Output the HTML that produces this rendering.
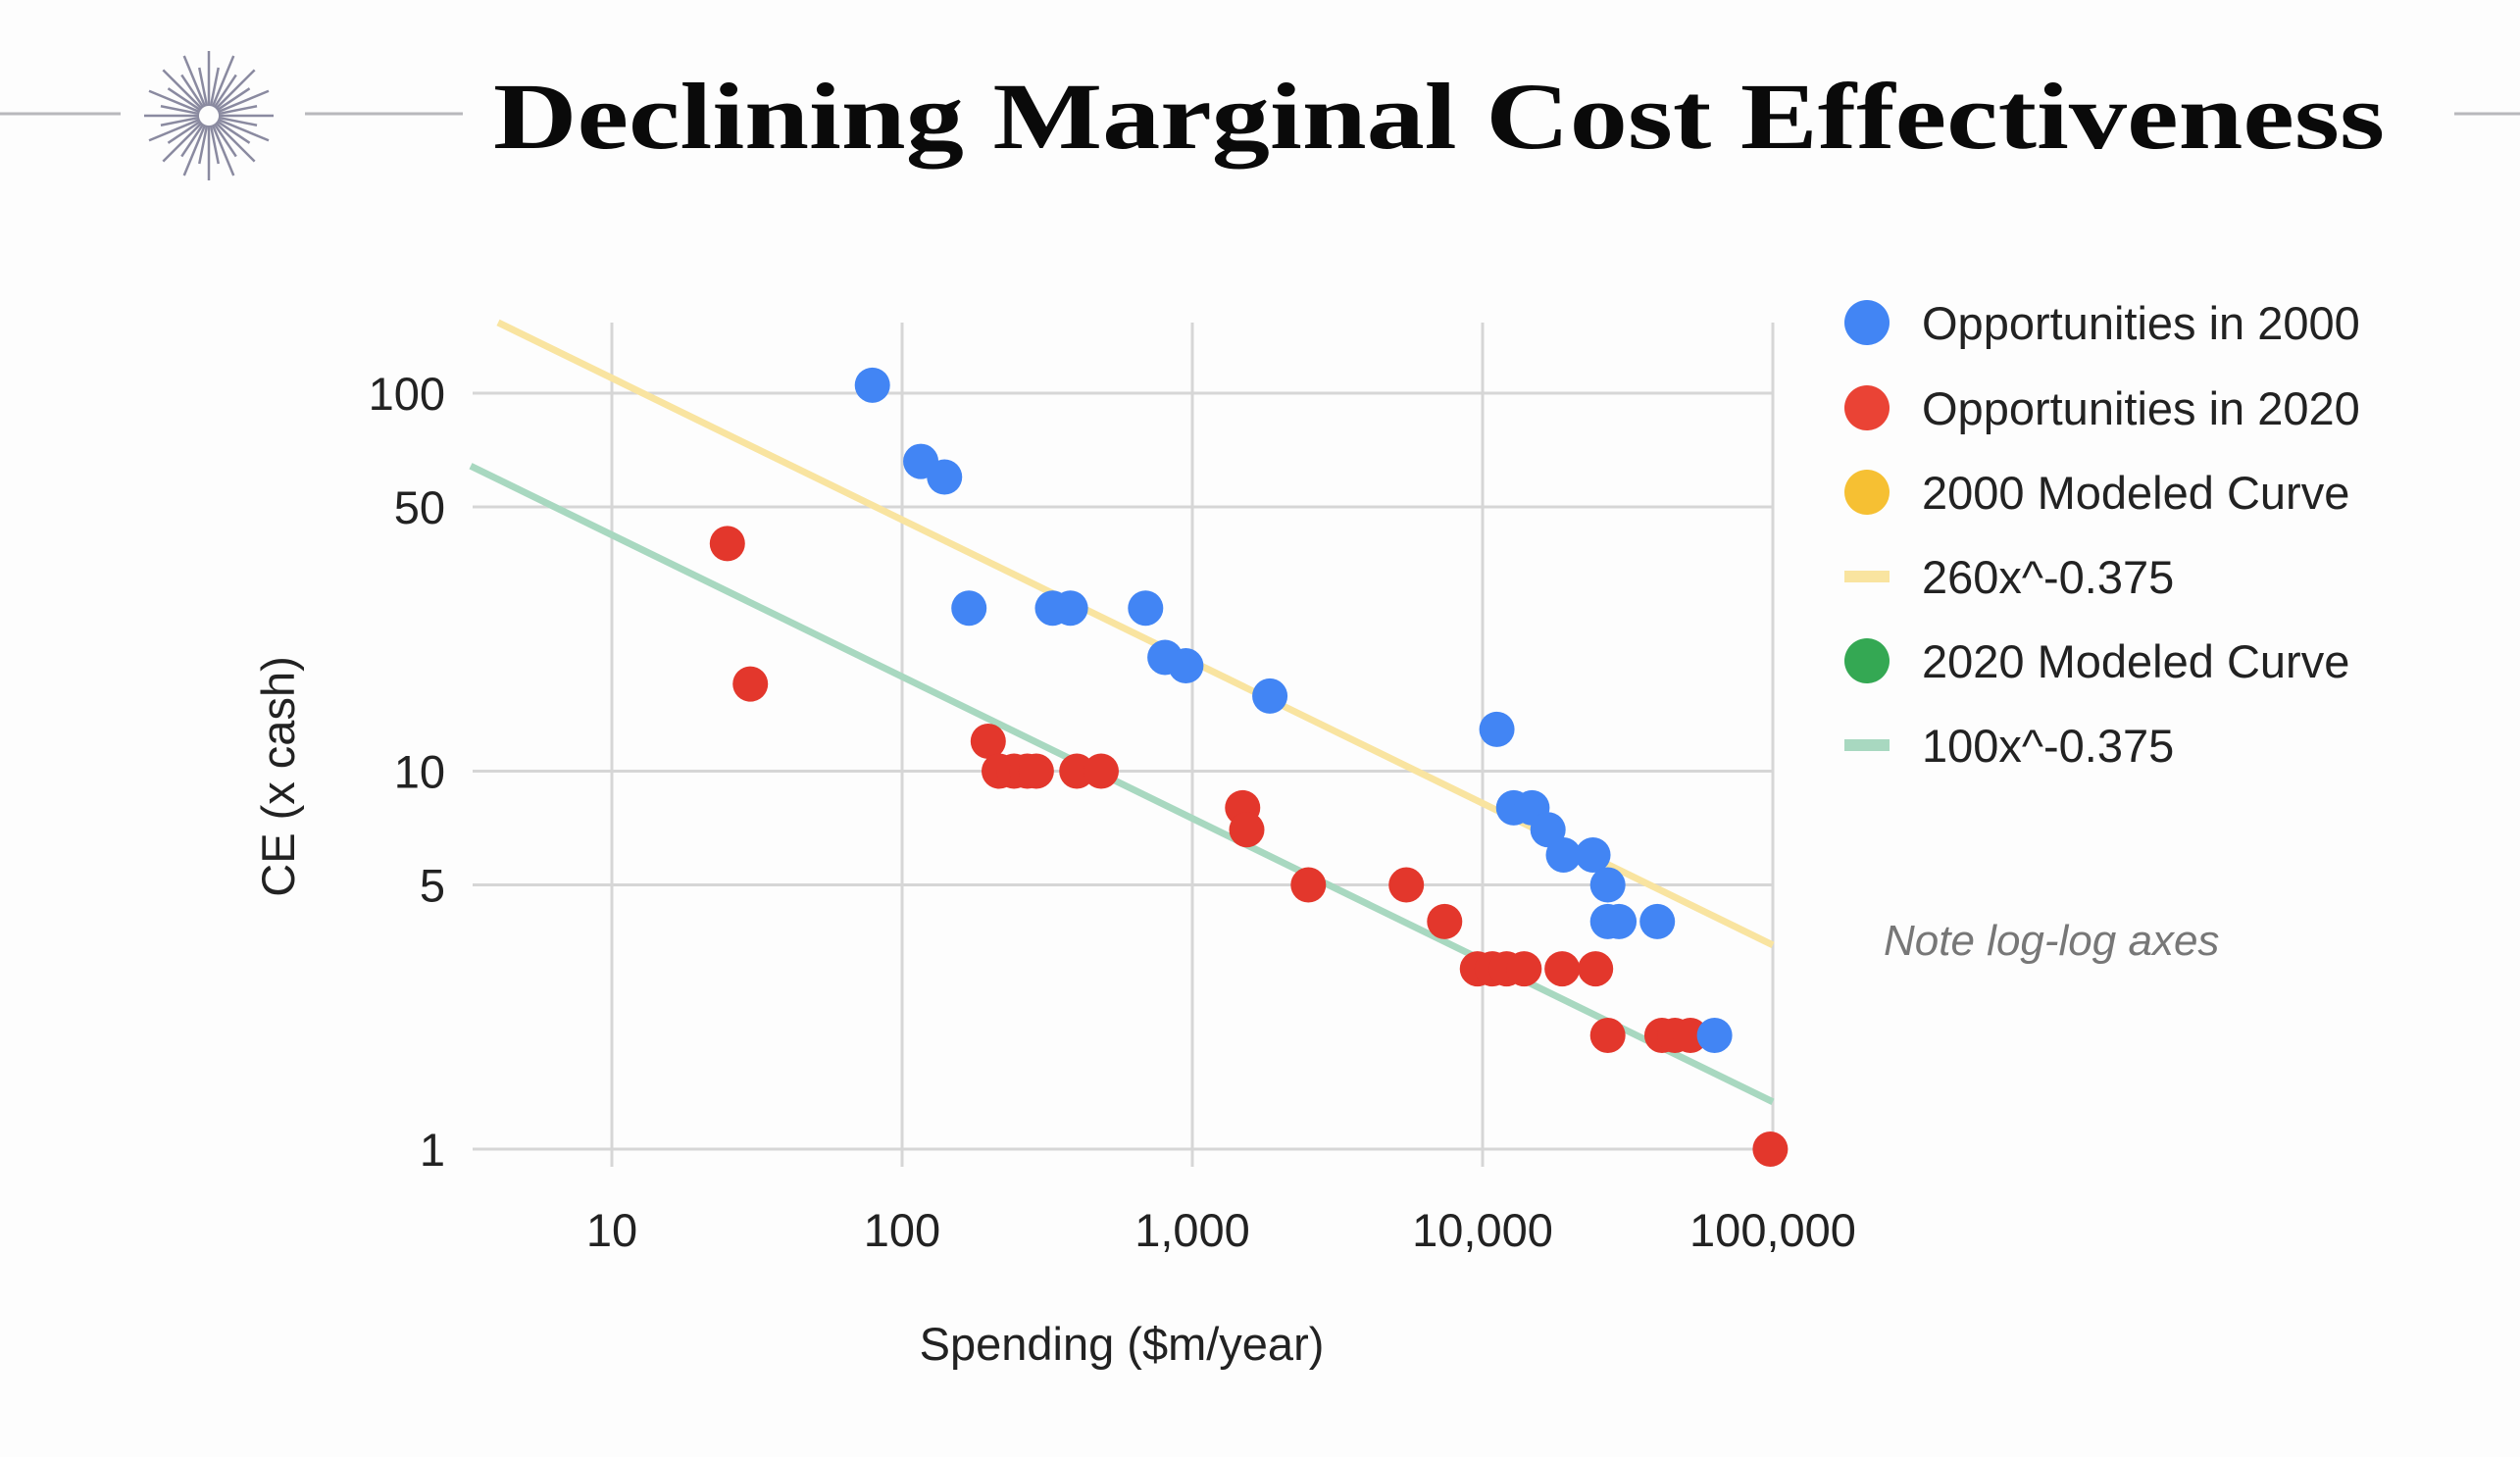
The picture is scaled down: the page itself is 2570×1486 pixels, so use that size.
<!DOCTYPE html>
<html><head><meta charset="utf-8"><style>
html,body{margin:0;padding:0;background:#fdfdfd;}
svg{display:block;}
text{font-family:"Liberation Sans",Arial,sans-serif;}
</style></head><body>
<svg id="chart" width="2570" height="1486" viewBox="0 0 2570 1486" xmlns="http://www.w3.org/2000/svg">
<rect width="2570" height="1486" fill="#fdfdfd"/>
<g stroke="#b8b8bc" stroke-width="3">
<line x1="0" y1="116" x2="123" y2="116"/><line x1="311" y1="116" x2="472" y2="116"/><line x1="2503" y1="116" x2="2570" y2="116"/>
</g>
<g id="star" stroke="#8a8aa0" stroke-width="2.5"></g>
<text x="503" y="151" font-family="Liberation Serif, serif" font-weight="bold" font-size="96" fill="#0a0a0a" textLength="1929" lengthAdjust="spacingAndGlyphs" style="font-family:'Liberation Serif',serif">Declining Marginal Cost Effectiveness</text>
<g id="grid"></g>
<g id="lines"></g>
<g id="pts"></g>
<g id="axes"></g>
<text x="1144" y="1387" font-size="47" text-anchor="middle" fill="#222">Spending ($m/year)</text>
<text transform="translate(300,792) rotate(-90)" font-size="47" text-anchor="middle" fill="#222">CE (x cash)</text>
<g font-size="47" fill="#222">
<g><circle cx="1904" cy="329" r="23" fill="#4285f4"/><text x="1960" y="346">Opportunities in 2000</text></g>
<g><circle cx="1904" cy="416" r="23" fill="#ea4335"/><text x="1960" y="433">Opportunities in 2020</text></g>
<g><circle cx="1904" cy="502" r="23" fill="#f6c033"/><text x="1960" y="519">2000 Modeled Curve</text></g>
<g><rect x="1881" y="582" width="46" height="12" fill="#f9e4a0"/><text x="1960" y="605">260x^-0.375</text></g>
<g><circle cx="1904" cy="674" r="23" fill="#34a853"/><text x="1960" y="691">2020 Modeled Curve</text></g>
<g><rect x="1881" y="754" width="46" height="12" fill="#a8d8c0"/><text x="1960" y="777">100x^-0.375</text></g>
</g>
<text x="1921" y="974" font-size="44" font-style="italic" fill="#777">Note log-log axes</text>
</svg>
<script>
const blueX=[79,116,140,170,330,380,690,805,950,1850,11200,12800,14800,16800,19000,24000,27000,27000,29500,40000,63000];
const blueY=[105,66,60,27,27,27,27,20,19,15.8,12.9,8,8,7,6,6,5,4,4,4,2];
const redX=[25,30,198,216,243,270,290,400,485,1490,1540,2510,5460,7400,9600,10800,12100,13900,18800,24500,27000,41500,46000,52000,98000];
const redY=[40,17,12,10,10,10,10,10,10,8,7,5,5,4,3,3,3,3,3,3,2,2,2,2,1];
const xTicks=[10,100,1000,10000,100000];
const xTickLabels=["10","100","1,000","10,000","100,000"];
const yTicks=[1,5,10,50,100];
const yTickLabels=["1","5","10","50","100"];
const curveCoef=[260,100];
const curveExp=-0.375;
const curveColors=["#f9e4a0","#a8d8c0"];

const NS="http://www.w3.org/2000/svg";
const X0=482,X1=1808,Y0=329,Y1=1190;
function sx(v){return 624+(Math.log10(v)-1)*296;}
function sy(v){return 1172-Math.log10(v)*385.5;}
function mk(tag,attrs,parent){const e=document.createElementNS(NS,tag);for(const k in attrs)e.setAttribute(k,attrs[k]);parent.appendChild(e);return e;}

const star=document.getElementById('star');
for(let i=0;i<16;i++){const a=i*Math.PI/16;const r=(i%2?50:66);const r0=10;
[1,-1].forEach(function(s){
const l=mk('line',{x1:213+s*r0*Math.cos(a),y1:118+s*r0*Math.sin(a),x2:213+s*r*Math.cos(a),y2:118+s*r*Math.sin(a)},star);

});}

const grid=document.getElementById('grid');
yTicks.forEach(function(t){const l=mk('line',{x1:X0,x2:X1,y1:sy(t),y2:sy(t),stroke:'#d6d6d6','stroke-width':3},grid);

});
xTicks.forEach(function(t){const l=mk('line',{x1:sx(t),x2:sx(t),y1:Y0,y2:Y1,stroke:'#d6d6d6','stroke-width':3},grid);

});

const axes=document.getElementById('axes');
xTicks.forEach(function(t,i){const e=mk('text',{x:sx(t),y:1271,'font-size':47,'text-anchor':'middle',fill:'#222'},axes);e.textContent=xTickLabels[i];

});
yTicks.forEach(function(t,i){const e=mk('text',{x:454,y:sy(t)+17,'font-size':47,'text-anchor':'end',fill:'#222'},axes);e.textContent=yTickLabels[i];

});

const lines=document.getElementById('lines');
const xStarts=[Math.pow(10,1-(624-508)/296),Math.pow(10,1-(624-480)/296)];
const xmax=100000;
curveCoef.forEach(function(c,i){const xmin=xStarts[i];const l=mk('line',{x1:sx(xmin),y1:sy(c*Math.pow(xmin,curveExp)),x2:sx(xmax),y2:sy(c*Math.pow(xmax,curveExp)),stroke:curveColors[i],'stroke-width':7},lines);

});

const pts=document.getElementById('pts');
redX.forEach(function(v,i){const c=mk('circle',{cx:sx(v),cy:sy(redY[i]),r:18,fill:'#e3372c'},pts);

});
blueX.forEach(function(v,i){const c=mk('circle',{cx:sx(v),cy:sy(blueY[i]),r:18,fill:'#4285f4'},pts);

});
</script>
</body></html>
